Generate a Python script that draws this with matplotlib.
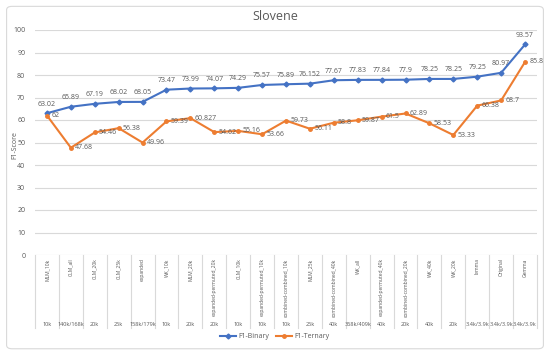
import matplotlib
matplotlib.use("Agg")
import matplotlib.pyplot as plt
import matplotlib.transforms as mtransforms
from matplotlib.patches import FancyBboxPatch

plt.rcParams['font.family'] = ['Open Sans', 'DejaVu Sans']

# categories (top level) and sample sizes (bottom level)
models = ["MLM_10k", "CLM_all", "CLM_20k", "CLM_25k", "expanded", "WK_10k", "MLM_20k",
          "expanded-permuted_20k", "CLM_10k", "expanded-permuted_10k", "combined-combined_10k",
          "MLM_25k", "combined-combined_40k", "WK_all", "expanded-permuted_40k",
          "combined-combined_20k", "WK_40k", "WK_20k", "lemma", "Original", "Gemma"]
sizes = ["10k", "140k/168k", "20k", "25k", "158k/179k", "10k", "20k", "20k", "10k", "10k",
         "10k", "25k", "40k", "368k/409k", "40k", "20k", "40k", "20k",
         "3.4k/3.9k", "3.4k/3.9k", "3.4k/3.9k"]
f1_binary = [63.02, 65.89, 67.19, 68.02, 68.05, 73.47, 73.99, 74.07, 74.29, 75.57, 75.89,
             76.152, 77.67, 77.83, 77.84, 77.9, 78.25, 78.25, 79.25, 80.97, 93.57]
f1_ternary = [62, 47.68, 54.46, 56.38, 49.96, 59.39, 60.827, 54.62, 55.16, 53.66, 59.73,
              56.11, 58.8, 59.87, 61.5, 62.89, 58.53, 53.33, 66.38, 68.7, 85.8]

blue = "#4472C4"
orange = "#ED7D31"
grey = "#595959"
grid = "#D9D9D9"

fig = plt.figure(figsize=(5.5, 3.53), dpi=100)
fig.patches.append(FancyBboxPatch((0.012, 0.012), 0.976, 0.97,
                                  boxstyle="round,pad=0,rounding_size=0.01",
                                  transform=fig.transFigure, fc="white", ec=grid, lw=0.8,
                                  zorder=-10))

ax = fig.add_axes([35 / 550, 1 - 255 / 353, 502 / 550, 225 / 353])
ax.set_facecolor("none")
x = list(range(len(models)))

ax.plot(x, f1_binary, color=blue, lw=1.5, marker="D", ms=2.5, label="F1-Binary", zorder=3)
ax.plot(x, f1_ternary, color=orange, lw=1.5, marker="o", ms=2.5, label="F1-Ternary", zorder=3)

for xi, v in zip(x, f1_binary):
    ax.annotate(f"{v:g}", (xi, v), xytext=(0, 4), textcoords="offset points",
                ha="center", va="bottom", fontsize=5, color=grey)
for xi, v in zip(x, f1_ternary):
    ax.annotate(f"{v:g}", (xi, v), xytext=(3, 0), textcoords="offset points",
                ha="left", va="center", fontsize=5, color=grey)

ax.set_xlim(-0.5, len(models) - 0.5)
ax.set_ylim(0, 100)
ax.set_yticks(range(0, 101, 10))
ax.tick_params(axis="y", length=0, labelsize=5, labelcolor=grey, pad=7)
ax.set_xticks([])
ax.grid(axis="y", color=grid, lw=0.8)
for s in ax.spines.values():
    s.set_visible(False)
fig.text(15 / 550, 1 - 145 / 353, "F1-Score", rotation=90, ha="center", va="center",
         fontsize=5, color=grey)

# multi-level category axis below the plot
trans = mtransforms.blended_transform_factory(ax.transData, ax.transAxes)
for k in range(len(models) + 1):
    ax.plot([k - 0.5, k - 0.5], [0, -0.325], transform=trans, color=grid, lw=0.8,
            clip_on=False)
for xi, m, s in zip(x, models, sizes):
    ax.text(xi, -0.015, m, transform=trans, rotation=90, ha="center", va="top",
            fontsize=3.6, color=grey)
    ax.text(xi, -0.31, s, transform=trans, ha="center", va="center",
            fontsize=4, color=grey)

fig.text(0.5, 1 - 17 / 353, "Slovene", ha="center", va="center", fontsize=9, color=grey)
fig.legend(loc="center", bbox_to_anchor=(0.5, 1 - 337 / 353), ncol=2, frameon=False,
           fontsize=5, labelcolor=grey, handlelength=2.2, columnspacing=1.0,
           handletextpad=0.4)

fig.savefig("out.png", dpi=100)
